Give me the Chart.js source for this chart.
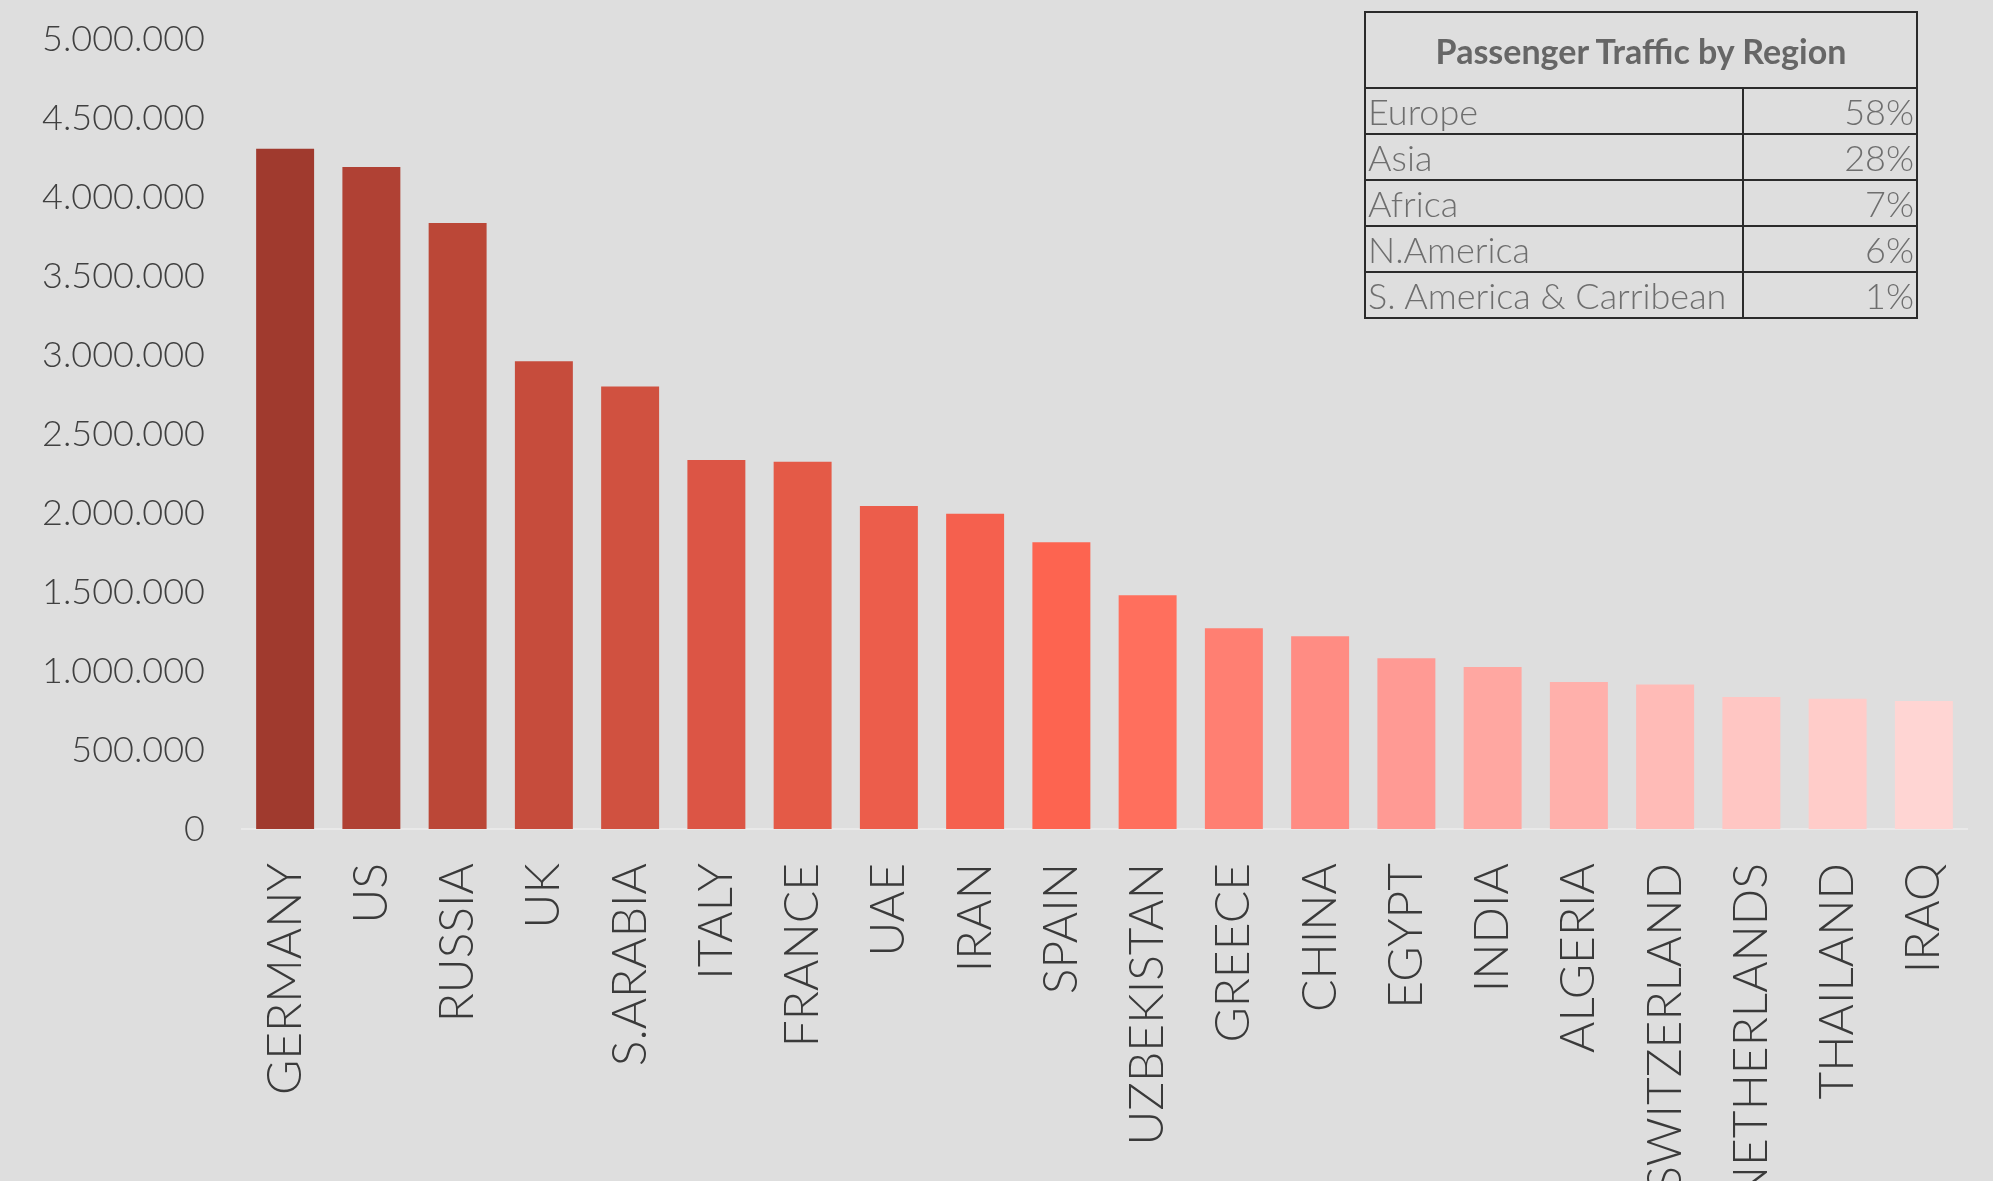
<!DOCTYPE html>
<html>
<head>
<meta charset="utf-8">
<title>Passenger Traffic</title>
<script src="https://cdn.jsdelivr.net/npm/chart.js@4.4.1/dist/chart.umd.min.js"></script>
<style>
  html, body { margin: 0; padding: 0; background: #dedede; }
  #wrap { position: relative; width: 1993px; height: 1181px; overflow: hidden; }
  #regionTable {
    position: absolute; left: 1364px; top: 11px; width: 554px;
    border-collapse: collapse; font-family: Lato, sans-serif; color: #6e6e6e;
  }
  #regionTable td, #regionTable th { border: 2px solid #2b2b2b; padding: 0 2px; }
  #regionTable th { height: 74px; font-size: 34px; font-weight: bold; color: #666; }
  #regionTable td { height: 44px; font-size: 36px; line-height: 44px; white-space: nowrap; font-weight: 300; }
  #regionTable td.pct { text-align: right; width: 168px; }
</style>
</head>
<body>
<div id="wrap">
  <canvas id="trafficChart" width="1993" height="1181"></canvas>
  <table id="regionTable"></table>
</div>
<script>
const countries = ['GERMANY', 'US', 'RUSSIA', 'UK', 'S.ARABIA', 'ITALY', 'FRANCE', 'UAE', 'IRAN', 'SPAIN',
    'UZBEKISTAN', 'GREECE', 'CHINA', 'EGYPT', 'INDIA', 'ALGERIA', 'SWITZERLAND', 'NETHERLANDS', 'THAILAND', 'IRAQ'];
const passengers = [4305000, 4190000, 3835000, 2960000, 2800000, 2335000, 2325000, 2045000, 1995000, 1815000,
    1480000, 1270000, 1220000, 1080000, 1025000, 930000, 915000, 835000, 825000, 810000];
const barColors = ['#a03a2e', '#b04134', '#bb4737', '#c64c3c', '#d05140', '#dc5545', '#e45a47', '#ec5d4b', '#f5604e', '#fd6450',
    '#ff6f5d', '#ff7f72', '#ff8c83', '#ff9a94', '#ffa7a1', '#ffb0ab', '#ffbbb7', '#ffc6c3', '#ffccc9', '#ffd5d3'];
const yTickLabels = ['0', '500.000', '1.000.000', '1.500.000', '2.000.000', '2.500.000',
    '3.000.000', '3.500.000', '4.000.000', '4.500.000', '5.000.000'];

const tableTitle = 'Passenger Traffic by Region';
const regions = ['Europe', 'Asia', 'Africa', 'N.America', 'S. America & Carribean'];
const regionShares = ['58%', '28%', '7%', '6%', '1%'];

// region table in the top right corner
const table = document.getElementById('regionTable');
let html = '<tr><th colspan="2">' + tableTitle + '</th></tr>';
for (let i = 0; i < regions.length; i++) {
    html += '<tr><td>' + regions[i] + '</td><td class="pct">' + regionShares[i] + '</td></tr>';
}
table.innerHTML = html;

const ctx = document.getElementById('trafficChart').getContext('2d');

new Chart(ctx, {
    type: 'bar',
    data: {
        labels: countries,
        datasets: [
            {
                label: 'Passengers',
                data: passengers,
                backgroundColor: barColors,
                barPercentage: 0.672,
                categoryPercentage: 1
            }
        ]
    },
    options: {
        responsive: false,
        animation: false,
        layout: {
            padding: { top: 39, right: 26, left: 0, bottom: 0 }
        },
        plugins: {
            legend: { display: false },
            tooltip: { enabled: false }
        },
        scales: {
            x: {
                grid: { display: false, drawTicks: false },
                border: { display: true, color: '#e9e9e9', width: 2 },
                ticks: {
                    color: '#3a3a3a',
                    font: { family: 'Lato', size: 48, weight: 300 },
                    minRotation: 90,
                    maxRotation: 90,
                    autoSkip: false,
                    padding: 34
                },
                afterFit: function (scale) {
                    scale.height = 352;
                    scale.paddingLeft = 0;
                    scale.paddingRight = 0;
                }
            },
            y: {
                min: 0,
                max: 5000000,
                grid: { display: false, drawTicks: false },
                border: { display: false },
                ticks: {
                    stepSize: 500000,
                    color: '#404040',
                    font: { family: 'Lato', size: 36, weight: 300 },
                    padding: 37,
                    callback: function (value, index) { return yTickLabels[index]; }
                },
                afterFit: function (scale) {
                    scale.width = 242;
                    scale.paddingTop = 0;
                    scale.paddingBottom = 0;
                }
            }
        }
    }
});
</script>
</body>
</html>
